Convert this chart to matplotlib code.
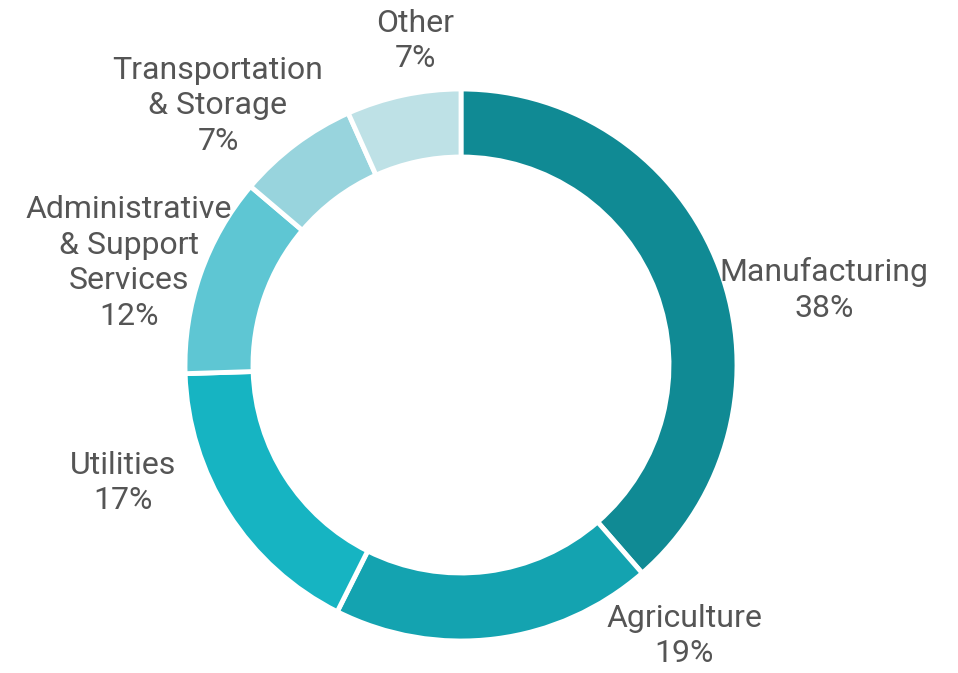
import matplotlib.pyplot as plt

sectors = ["Manufacturing", "Agriculture", "Utilities",
           "Administrative\n& Support\nServices", "Transportation\n& Storage", "Other"]
shares = [38.6, 18.8, 17.1, 11.7, 7.1, 6.7]
pct_labels = ["38%", "19%", "17%", "12%", "7%", "7%"]
colors = ["#108a94", "#14a3b0", "#16b4c2", "#5ec6d3", "#98d4dd", "#bee1e6"]

# label anchors (pixels, y from top)
label_pos = [(824, 290), (684, 636), (123, 483), (129, 263), (218, 106), (415, 41)]

W, H = 958, 673
fig = plt.figure(figsize=(W / 100, H / 100), dpi=100)
ax = fig.add_axes([0, 0, 1, 1])

cx, cy, R = 461, H - 365, 276
ax.pie(shares, colors=colors, startangle=90, counterclock=False,
       center=(cx, cy), radius=R, frame=True,
       wedgeprops=dict(width=68, edgecolor="white", linewidth=3.5))
ax.set_xlim(0, W)
ax.set_ylim(0, H)
ax.set_aspect("equal")
ax.axis("off")

for name, pct, (x, y) in zip(sectors, pct_labels, label_pos):
    ax.text(x, H - y, f"{name}\n{pct}", ha="center", va="center",
            fontsize=23, color="#555555", family="Roboto", linespacing=1.3)

fig.savefig("out.png", dpi=100)
